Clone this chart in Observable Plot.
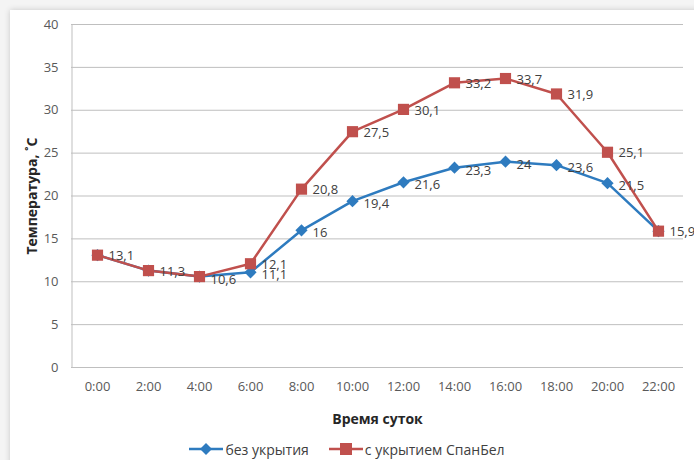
<!DOCTYPE html>
<html><head><meta charset="utf-8">
<script src="https://cdn.jsdelivr.net/npm/d3@7"></script>
<script src="https://cdn.jsdelivr.net/npm/@observablehq/plot@0.6"></script>
<style>
html,body{margin:0;padding:0;background:#f4f4f4;}
body{width:694px;height:460px;position:relative;overflow:hidden;font-family:"Open Sans",sans-serif;}
#card{position:absolute;left:10px;top:10px;width:700px;height:470px;background:#fff;box-shadow:0 0 6px rgba(0,0,0,0.18);}
#chart{position:absolute;left:0;top:0;}
#legend{position:absolute;left:0;top:438px;width:694px;height:22px;display:flex;justify-content:center;align-items:center;gap:20px;font-size:14px;color:#404040;}
.item{display:flex;align-items:center;gap:2px;}
g[aria-label="y-axis label"] text, g[aria-label="x-axis label"] text{font-weight:bold;fill:#262626;font-size:14px;}
</style>
</head><body>
<div id="card"></div>
<div id="chart"></div>
<div id="legend"></div>
<script>
const times = ["0:00","2:00","4:00","6:00","8:00","10:00","12:00","14:00","16:00","18:00","20:00","22:00"];
const uncovered = [13.1, 11.3, 10.6, 11.1, 16, 19.4, 21.6, 23.3, 24, 23.6, 21.5, 15.9];
const covered = [13.1, 11.3, 10.6, 12.1, 20.8, 27.5, 30.1, 33.2, 33.7, 31.9, 25.1, 15.9];
const seriesNames = ["без укрытия", "с укрытием СпанБел"];
const colors = ["#2E7BBF", "#C0504D"];
const yTicks = [0, 5, 10, 15, 20, 25, 30, 35, 40];

const rows = [];
times.forEach((t, i) => {
  rows.push({time: t, value: uncovered[i], series: seriesNames[0], same: uncovered[i] === covered[i]});
  rows.push({time: t, value: covered[i], series: seriesNames[1], same: uncovered[i] === covered[i]});
});
const blue = rows.filter(d => d.series === seriesNames[0]);
const red = rows.filter(d => d.series === seriesNames[1]);
const fmt = v => String(v).replace(".", ",");

const chart = Plot.plot({
  width: 694,
  height: 438,
  marginLeft: 71,
  marginRight: 11,
  marginTop: 24,
  marginBottom: 71,
  style: {fontFamily: "Open Sans, sans-serif", fontSize: "13px", color: "#595959", background: "transparent"},
  x: {type: "point", domain: times, padding: 0.5},
  y: {domain: [0, 40]},
  marks: [
    Plot.gridY(yTicks, {stroke: "#BFBFBF", strokeOpacity: 1, strokeWidth: 1}),
    Plot.ruleX([times[0]], {dx: -25.5, y1: 0, y2: 40, stroke: "#BFBFBF"}),
    Plot.axisY(yTicks, {tickSize: 0, tickPadding: 13, label: "Температура, ˚С", labelAnchor: "center", labelArrow: "none", labelOffset: 44, fill: "#595959"}),
    Plot.axisX({tickSize: 0, tickPadding: 14, label: "Время суток", labelAnchor: "center", labelArrow: "none", labelOffset: 56, fill: "#595959"}),
    Plot.line(blue, {x: "time", y: "value", stroke: colors[0], strokeWidth: 2.5}),
    Plot.line(red, {x: "time", y: "value", stroke: colors[1], strokeWidth: 2.5}),
    Plot.dot(blue, {x: "time", y: "value", symbol: "diamond2", r: 5.5, fill: colors[0], stroke: "none"}),
    Plot.dot(red, {x: "time", y: "value", symbol: "square", r: 6.3, fill: colors[1], stroke: "none"}),
    Plot.text(blue.filter(d => !d.same || d.time === "4:00"), {x: "time", y: "value", text: d => fmt(d.value), textAnchor: "start", dx: 11, dy: 3, fill: "#404040", fontSize: 13}),
    Plot.text(red.filter(d => d.time !== "4:00"), {x: "time", y: "value", text: d => fmt(d.value), textAnchor: "start", dx: 11, dy: 1, fill: "#404040", fontSize: 13})
  ]
});
document.getElementById("chart").append(chart);

const legend = document.getElementById("legend");
const markerSvg = (color, shape) => {
  const m = shape === "square"
    ? `<rect x="11" y="4" width="12" height="12" fill="${color}"/>`
    : `<path d="M17 4 L23 10 L17 16 L11 10 Z" fill="${color}"/>`;
  return `<svg width="34" height="20"><line x1="0" y1="10" x2="34" y2="10" stroke="${color}" stroke-width="2.5"/>${m}</svg>`;
};
seriesNames.forEach((name, i) => {
  const el = document.createElement("div");
  el.className = "item";
  el.innerHTML = markerSvg(colors[i], i === 0 ? "diamond" : "square") + `<span>${name}</span>`;
  legend.append(el);
});
</script>
</body></html>
